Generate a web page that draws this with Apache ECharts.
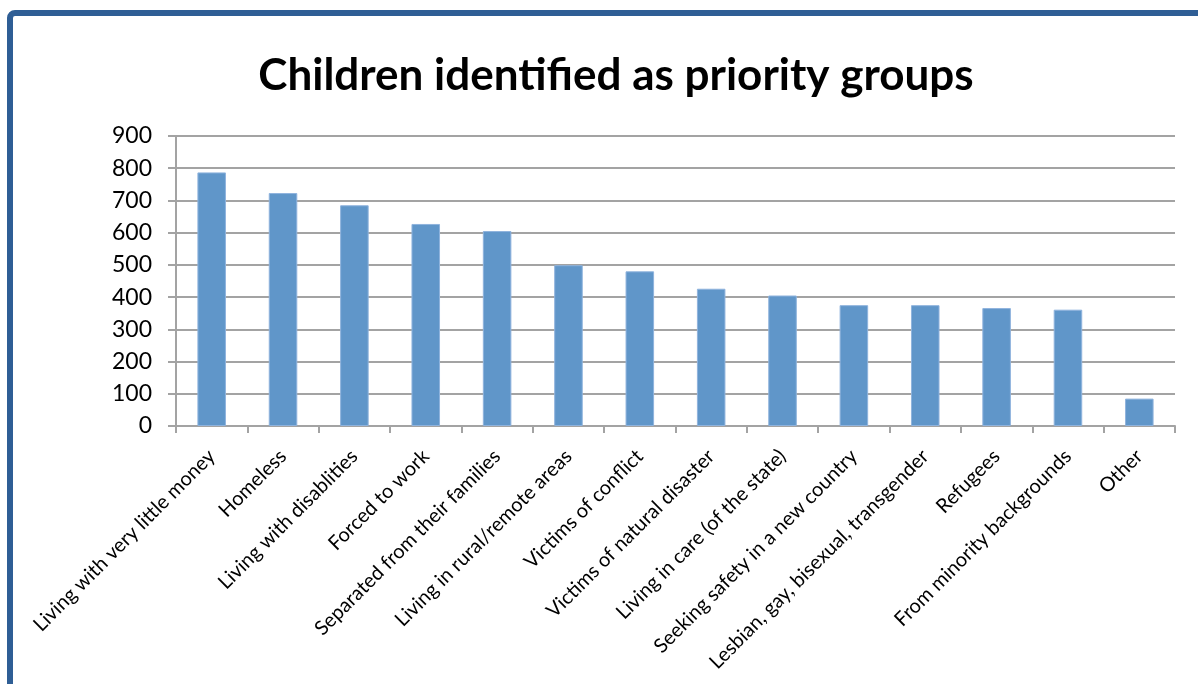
<!DOCTYPE html>
<html>
<head>
<meta charset="utf-8">
<script src="https://cdn.jsdelivr.net/npm/echarts@6/dist/echarts.min.js"></script>
<style>
html,body{margin:0;padding:0;background:#fff;}
#c{width:1198px;height:684px;}
</style>
</head>
<body>
<div id="c"></div>
<script>
var titleText = 'Children identified as priority groups';
var categories = [
  'Living with very little money',
  'Homeless',
  'Living with disablities',
  'Forced to work',
  'Separated from their families',
  'Living in rural/remote areas',
  'Victims of conflict',
  'Victims of natural disaster',
  'Living in care (of the state)',
  'Seeking safety in a new country',
  'Lesbian, gay, bisexual, transgender',
  'Refugees',
  'From minority backgrounds',
  'Other'
];
var values = [787, 723, 685, 627, 605, 499, 480, 426, 405, 375, 375, 366, 361, 85];
var yTicks = [0, 100, 200, 300, 400, 500, 600, 700, 800, 900];

var chart = echarts.init(document.getElementById('c'), null, {renderer: 'canvas'});
var font = 'Lato, "Open Sans", sans-serif';
chart.setOption({
  backgroundColor: '#ffffff',
  animation: false,
  title: {
    text: titleText,
    left: 611,
    textAlign: 'center',
    top: 49,
    textStyle: {fontFamily: font, fontWeight: 'bold', fontSize: 44, color: '#000'}
  },
  graphic: [{
    type: 'rect',
    shape: {x: 10, y: 13, width: 1400, height: 900, r: 5},
    style: {fill: 'none', stroke: '#2F5E95', lineWidth: 6},
    z: 100
  }],
  grid: {left: 176, right: 23, top: 136, bottom: 258, containLabel: false},
  xAxis: {
    type: 'category',
    data: categories,
    boundaryGap: true,
    axisLine: {show: true, lineStyle: {color: '#A3A3A3', width: 2}},
    axisTick: {show: true, length: 7, alignWithLabel: false, lineStyle: {color: '#A3A3A3', width: 2}},
    axisLabel: {
      interval: 0, rotate: 45, margin: 27,
      fontFamily: font, fontSize: 20, color: '#000'
    }
  },
  yAxis: {
    type: 'value',
    min: yTicks[0],
    max: yTicks[yTicks.length - 1],
    interval: 100,
    axisLine: {show: true, lineStyle: {color: '#A3A3A3', width: 2}},
    axisTick: {show: true, length: 8, lineStyle: {color: '#A3A3A3', width: 2}},
    splitLine: {show: true, lineStyle: {color: '#A3A3A3', width: 2}},
    axisLabel: {
      margin: 24, fontFamily: font, fontSize: 23, color: '#000',
      formatter: function (v) { return yTicks.indexOf(v) >= 0 ? String(v) : ''; }
    }
  },
  series: [{
    type: 'bar',
    data: values,
    barWidth: '40%',
    itemStyle: {color: '#6096C9', borderColor: '#8FB3DD', borderWidth: 1},
    z: 3
  }]
});
</script>
</body>
</html>
